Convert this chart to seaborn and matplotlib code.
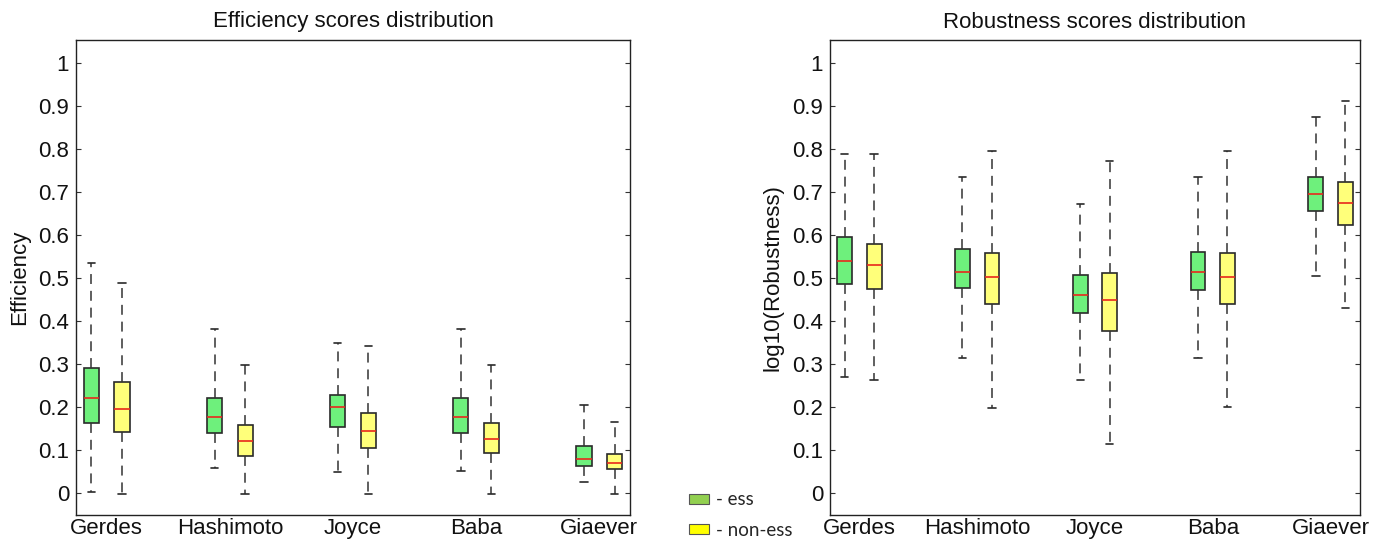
import numpy as np
import pandas as pd
import matplotlib.pyplot as plt
from matplotlib.patches import Patch
import seaborn as sns

studies = ['Gerdes', 'Hashimoto', 'Joyce', 'Baba', 'Giaever']
types = ['ess', 'non-ess']

# five-number summaries per study: [min, q1, median, q3, max]
eff_ess = [[0.002, 0.161, 0.221, 0.290, 0.535],
           [0.057, 0.139, 0.176, 0.221, 0.380],
           [0.047, 0.153, 0.200, 0.228, 0.347],
           [0.051, 0.138, 0.175, 0.220, 0.381],
           [0.024, 0.061, 0.078, 0.108, 0.203]]
eff_non = [[-0.003, 0.142, 0.195, 0.258, 0.488],
           [-0.003, 0.086, 0.121, 0.157, 0.297],
           [-0.003, 0.103, 0.143, 0.185, 0.340],
           [-0.003, 0.093, 0.125, 0.162, 0.297],
           [-0.003, 0.055, 0.069, 0.090, 0.164]]
rob_ess = [[0.268, 0.486, 0.540, 0.594, 0.788],
           [0.313, 0.476, 0.513, 0.566, 0.734],
           [0.261, 0.419, 0.459, 0.507, 0.671],
           [0.313, 0.471, 0.514, 0.560, 0.734],
           [0.505, 0.656, 0.695, 0.734, 0.874]]
rob_non = [[0.261, 0.473, 0.529, 0.579, 0.788],
           [0.198, 0.438, 0.501, 0.558, 0.795],
           [0.113, 0.376, 0.448, 0.511, 0.772],
           [0.200, 0.439, 0.501, 0.557, 0.795],
           [0.429, 0.623, 0.674, 0.722, 0.912]]

yticks = [0, 0.1, 0.2, 0.3, 0.4, 0.5, 0.6, 0.7, 0.8, 0.9, 1]
ytick_labels = ['0', '0.1', '0.2', '0.3', '0.4', '0.5', '0.6', '0.7', '0.8', '0.9', '1']

box_colors = {'ess': '#6ef07c', 'non-ess': '#ffff7a'}
legend_colors = {'ess': '#92d050', 'non-ess': '#ffff00'}


def to_long(ess, non):
    rows = []
    for s, e, n in zip(studies, ess, non):
        rows += [(s, 'ess', v) for v in e]
        rows += [(s, 'non-ess', v) for v in n]
    return pd.DataFrame(rows, columns=['study', 'type', 'value'])


sns.set_theme(style='white')
plt.rcParams['font.family'] = ['Liberation Sans', 'DejaVu Sans']

fig = plt.figure(figsize=(13.9, 5.4), dpi=100)
ax1 = fig.add_axes([76 / 1390, 25 / 540, 554 / 1390, 475 / 540])
ax2 = fig.add_axes([830 / 1390, 25 / 540, 530 / 1390, 475 / 540])

panels = [
    (ax1, eff_ess, eff_non, 'Efficiency scores distribution', 'Efficiency'),
    (ax2, rob_ess, rob_non, 'Robustness scores distribution', 'log10(Robustness)'),
]

for ax, ess, non, title, ylabel in panels:
    df = to_long(ess, non)
    sns.boxplot(data=df, x='study', y='value', hue='type',
                order=studies, hue_order=types, palette=box_colors,
                saturation=1, width=0.5, gap=0.5, whis=(0, 100),
                linecolor='#2a2a2a', linewidth=1.2, legend=False, ax=ax,
                medianprops=dict(color='#e8281c', linewidth=1.2),
                whiskerprops=dict(color='#333333', linewidth=1.1,
                                  linestyle=(0, (6.5, 4.5))),
                capprops=dict(color='#2a2a2a', linewidth=1.2))
    ax.set_xlim(-0.25, 4.25)
    ax.set_ylim(-0.052, 1.053)
    ax.set_yticks(yticks)
    ax.set_yticklabels(ytick_labels)
    ax.tick_params(axis='y', direction='in', length=3.5, width=0.8,
                   left=True, right=True, labelsize=16, pad=5,
                   color='#333333', labelcolor='#111111')
    ax.tick_params(axis='x', length=0, labelsize=16, pad=2,
                   labelcolor='#111111')
    ax.set_xlabel('')
    ax.set_ylabel(ylabel, fontsize=16, labelpad=6, color='#111111')
    ax.set_title(title, fontsize=16, pad=9, color='#111111')
    for sp in ax.spines.values():
        sp.set_color('#222222')
        sp.set_linewidth(1.0)

handles = [Patch(facecolor=legend_colors[t], edgecolor='#555555', linewidth=0.8)
           for t in types]
fig.legend(handles, ['- ess', '- non-ess'], loc='center left',
           bbox_to_anchor=(672 / 1390, 25 / 540), frameon=False,
           handlelength=1.05, handleheight=0.45,
           handletextpad=0.4, labelspacing=0.7,
           prop={'family': ['Lato', 'DejaVu Sans'], 'size': 13.5})

fig.savefig('out.png', dpi=100)
